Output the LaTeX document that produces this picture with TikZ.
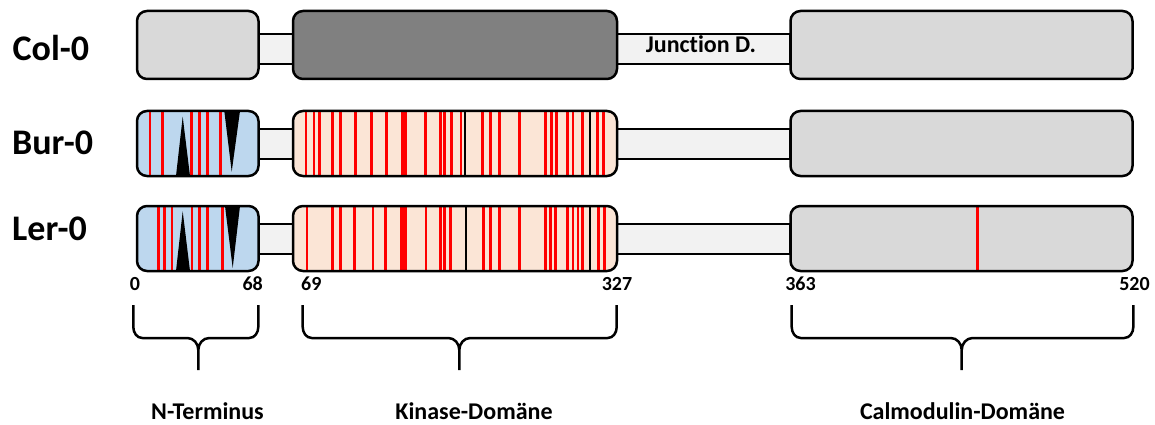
\documentclass[tikz,border=0pt]{standalone}
\usepackage{fontspec}
\setmainfont{Carlito}
\definecolor{boxgray}{HTML}{D9D9D9}
\definecolor{kingray}{HTML}{808080}
\definecolor{linkgray}{HTML}{F2F2F2}
\definecolor{nblue}{HTML}{BDD7EE}
\definecolor{kpeach}{HTML}{FBE5D6}
\begin{document}
\begin{tikzpicture}[x=1pt,y=-1pt,
  box/.style={draw=black,line width=2.5pt,rounded corners=10pt},
  link/.style={draw=black,line width=2.5pt,fill=linkgray},
  mut/.style={red,line width=2.6pt},
  cut/.style={black,line width=2pt},
  strain/.style={anchor=west,inner sep=0pt,font=\fontsize{36}{40}\selectfont\bfseries},
  numlbl/.style={anchor=base,inner sep=0pt,font=\fontsize{20}{22}\selectfont\bfseries},
  dom/.style={anchor=base,inner sep=0pt,font=\fontsize{24}{26}\selectfont\bfseries},
  brace/.style={line width=2.5pt,line join=round}]
\useasboundingbox (0,0) rectangle (1155,425);

% strains
\node[strain] (col) at (12.5,48) {Col-0};
\node[strain] (bur) at (12,143) {Bur-0};
\node[strain] (ler) at (12,229) {Ler-0};

% Col-0
\draw[link] (258,34) rectangle (293,64);
\draw[link] (617,34) rectangle (790,64);
\draw[box,fill=boxgray] (137,11) rectangle (258.5,79);
\draw[box,fill=kingray] (293,11) rectangle (617,79);
\draw[box,fill=boxgray] (790.5,11) rectangle (1132.5,79);
\node[dom] (junc) at (701,53) {Junct\kern0pt ion D.};

% Bur-0
\draw[link] (258,129) rectangle (293,159);
\draw[link] (617,129) rectangle (790,159);
\fill[nblue,rounded corners=10pt] (137,111) rectangle (258.5,176);
\foreach \x in {150,162.7,191.3,199.3,207.3,220.7}
  \draw[mut] (\x,111) -- (\x,176);
\fill (176,176) -- (182.7,116.7) -- (190,176) -- cycle;
\fill (224.3,111) -- (240,111) -- (231.7,171.7) -- cycle;
\draw[box] (137,111) rectangle (258.5,176);
\fill[kpeach,rounded corners=10pt] (293,111) rectangle (617,176);
\foreach \x in {306,314,319.7,332.7,340.3,355.3,371.7,386.3,425.7,440.3,444.3,451.3,461,
                482.7,490.3,499.3,519.3,545.7,551.7,556.3,567.3,573,582.7,597.3,603.3}
  \draw[mut] (\x,111) -- (\x,176);
\fill[red] (400.7,111) rectangle (407.3,176);
\foreach \x in {465,589.7}
  \draw[cut] (\x,111) -- (\x,176);
\draw[box] (293,111) rectangle (617,176);
\draw[box,fill=boxgray] (790.5,111) rectangle (1132.5,176);

% Ler-0
\draw[link] (258,224) rectangle (293,254);
\draw[link] (617,224) rectangle (790,254);
\fill[nblue,rounded corners=10pt] (137,206) rectangle (258.5,271);
\foreach \x in {158.7,164.7,172,192,199.3,207.3,222.7}
  \draw[mut] (\x,206) -- (\x,271);
\fill (176,271) -- (182.7,211.3) -- (190,271) -- cycle;
\fill (225,206) -- (240,206) -- (232.7,268) -- cycle;
\draw[box] (137,206) rectangle (258.5,271);
\fill[kpeach,rounded corners=10pt] (293,206) rectangle (617,271);
\foreach \x in {307,332.7,340.3,354.3,373,385.7,426,440.3,444.3,450.7,
                483.7,490.7,499.3,519.3,545.7,550.7,555.3,567.3,573,578,582.7,598.3,604.3}
  \draw[mut] (\x,206) -- (\x,271);
\fill[red] (400,206) rectangle (406.6,271);
\foreach \x in {465.7,590.3}
  \draw[cut] (\x,206) -- (\x,271);
\draw[box] (293,206) rectangle (617,271);
\fill[boxgray,rounded corners=10pt] (790.5,206) rectangle (1132.5,271);
\draw[mut] (977.3,206) -- (977.3,271);
\draw[box] (790.5,206) rectangle (1132.5,271);

% positions
\node[numlbl] (p0) at (135,290) {0};
\node[numlbl] (p68) at (252.7,290) {68};
\node[numlbl] (p69) at (311.3,290) {69};
\node[numlbl] (p327) at (617,290) {327};
\node[numlbl] (p363) at (800.5,290) {363};
\node[numlbl] (p520) at (1134.5,290) {520};

% braces
\foreach \l/\m/\r in {133.3/198.3/258.3, 302.7/459.3/616.7, 791.7/961.7/1133.3}
  \draw[brace] (\l,305) -- (\l,327) to[out=-90,in=180] (\l+9,338) -- (\m-11,338)
    to[out=0,in=90] (\m,350) -- (\m,370)
    (\m,350) to[out=90,in=180] (\m+11,338) -- (\r-9,338)
    to[out=0,in=-90] (\r,327) -- (\r,305);

% domains
\node[dom] (nterm) at (207.5,419) {N-Terminus};
\node[dom] (kin) at (474,419) {Kinase-Domäne};
\node[dom] (cam) at (962.5,419) {Calmodulin-Domäne};
\end{tikzpicture}
\end{document}
